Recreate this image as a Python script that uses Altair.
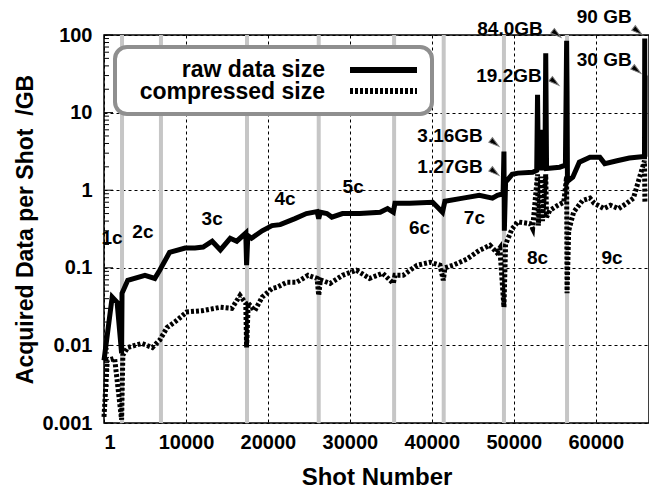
import altair as alt
import pandas as pd

# ---------------- data ----------------
raw_shot = [1, 1000, 1600, 2150, 2200, 2900, 5000, 6200, 6800, 8000, 9900, 11100, 12100,
            13200, 14200, 15400, 16200, 17300, 17400, 17550, 18000, 19300, 20500, 21500,
            23300, 24700, 26000, 26200, 26400, 27200, 27800, 29100, 31200, 33700, 34600,
            35300, 35500, 37300, 40100, 41300, 41600, 43800, 45800, 47400, 48000, 48700,
            48800, 48850, 49000, 49800, 50500, 52300, 52800, 52900, 53000, 53100, 53200,
            53400, 53500, 53700, 53800, 53900, 54000, 55600, 56300, 56450, 56500, 56550,
            57200, 58000, 59300, 60500, 61100, 62600, 64100, 65600, 65950, 65980, 66000, 66030]
raw_gb = [0.0064, 0.042, 0.036, 0.0079, 0.047, 0.069, 0.080, 0.073, 0.093, 0.158, 0.18, 0.18, 0.185,
          0.22, 0.17, 0.24, 0.22, 0.28, 0.108, 0.26, 0.24, 0.30, 0.35, 0.36,
          0.43, 0.50, 0.53, 0.43, 0.52, 0.50, 0.45, 0.50, 0.50, 0.52, 0.58,
          0.52, 0.68, 0.68, 0.70, 0.52, 0.72, 0.79, 0.86, 0.79, 0.86, 0.90,
          3.16, 0.30, 1.27, 1.60, 1.66, 1.70, 1.80, 17.0, 1.8, 5.0, 1.8,
          6.0, 1.8, 4.0, 1.8, 58.0, 1.9, 1.98, 2.1, 84.0, 19.2, 1.3,
          1.47, 2.3, 2.66, 2.66, 2.2, 2.4, 2.6, 2.7, 2.7, 90.0, 2.7, 30.0]

comp_shot = [1, 400, 1300, 2150, 2300, 2900, 4600, 5900, 6800, 7700, 8900, 10100, 12000,
             14200, 15600, 16600, 17300, 17400, 17600, 18400, 19300, 20500, 21100, 22300,
             23500, 24900, 26000, 26200, 26400, 27600, 29100, 30800, 32400, 34000, 35300,
             35500, 36500, 38200, 39800, 41000, 41400, 41600, 42600, 44300, 45800, 47100,
             47900, 48300, 48800, 49000, 49800, 50500, 52000, 52300, 52900, 53000, 53300,
             53500, 53900, 54000, 54400, 55400, 56100, 56450, 56500, 56700, 57300, 58400,
             59300, 59800, 61000, 61800, 62800, 63800, 64600, 65950, 66000]
comp_gb = [0.0012, 0.0064, 0.0068, 0.0011, 0.0075, 0.0094, 0.0106, 0.0094, 0.0117, 0.017, 0.021, 0.027, 0.028,
           0.031, 0.030, 0.044, 0.035, 0.0094, 0.035, 0.028, 0.042, 0.054, 0.056, 0.065,
           0.065, 0.080, 0.073, 0.044, 0.070, 0.063, 0.080, 0.093, 0.073, 0.085, 0.063,
           0.080, 0.080, 0.108, 0.118, 0.108, 0.069, 0.10, 0.108, 0.13, 0.168, 0.195,
           0.158, 0.18, 0.031, 0.20, 0.32, 0.39, 0.37, 0.32, 1.6, 0.35, 1.5,
           0.40, 1.6, 0.45, 0.55, 0.64, 0.70, 1.5, 0.047, 0.30, 0.52, 0.74,
           0.79, 0.68, 0.58, 0.64, 0.58, 0.68, 0.79, 2.4, 0.70]

boundary_shots = [2200, 6950, 17450, 26200, 35400, 41450, 48800, 56500]

campaign_labels = ["1c", "2c", "3c", "4c", "5c", "6c", "7c", "8c", "9c"]
campaign_shot = [975, 4750, 13200, 22100, 30400, 38500, 45200, 52900, 62000]
campaign_gb = [0.24, 0.287, 0.42, 0.765, 1.09, 0.33, 0.435, 0.133, 0.133]

annot_labels = ["84.0GB", "90 GB", "30 GB", "19.2GB", "3.16GB", "1.27GB"]
annot_text_shot = [53540, 64390, 64390, 53410, 46220, 46220]
annot_text_gb = [119, 170, 47.6, 29.6, 4.97, 1.98]
annot_arrow_shot = [55240, 65120, 65000, 55000, 47680, 47680]
annot_arrow_gb = [103, 112, 35.3, 24.8, 4.04, 1.71]

x_ticks = [1, 10000, 20000, 30000, 40000, 50000, 60000]
y_ticks = [0.001, 0.01, 0.1, 1, 10, 100]
y_minor = [0.002, 0.003, 0.004, 0.005, 0.006, 0.007, 0.008, 0.009,
           0.02, 0.03, 0.04, 0.05, 0.06, 0.07, 0.08, 0.09,
           0.2, 0.3, 0.4, 0.5, 0.6, 0.7, 0.8, 0.9,
           2, 3, 4, 5, 6, 7, 8, 9,
           20, 30, 40, 50, 60, 70, 80, 90]

series_names = ["raw data size", "compressed size"]

# ---------------- tables ----------------
raw_df = pd.DataFrame({"shot": raw_shot, "gb": raw_gb, "i": range(len(raw_shot))})
comp_df = pd.DataFrame({"shot": comp_shot, "gb": comp_gb, "i": range(len(comp_shot))})
band_df = pd.DataFrame({"shot": boundary_shots})
camp_df = pd.DataFrame({"label": campaign_labels, "shot": campaign_shot, "gb": campaign_gb})
ann_df = pd.DataFrame({"label": annot_labels, "tshot": annot_text_shot, "tgb": annot_text_gb,
                       "ashot": annot_arrow_shot, "agb": annot_arrow_gb})
minor_df = pd.DataFrame({"gb": y_minor})
major_df = pd.DataFrame({"gb": y_ticks})

FONT = "Liberation Sans"

x_scale = alt.Scale(domain=[1, 66500], nice=False, zero=False)
y_scale = alt.Scale(type="log", domain=[0.001, 100], nice=False)

x_axis = alt.Axis(values=x_ticks, format="d", title="Shot Number", grid=True,
                  gridColor="black", gridDash=[3, 3], gridWidth=1, ticks=False, domain=False,
                  labelPadding=9, labelFontSize=20, labelFontWeight="bold", labelColor="black",
                  labelFont=FONT, titleFont=FONT, titleFontSize=24, titleFontWeight="bold",
                  titleColor="black", titleY=61, titleBaseline="alphabetic")
y_axis = alt.Axis(values=y_ticks, format="~g", title="Acquired Data per Shot \u00a0/GB", grid=True,
                  gridColor="black", gridDash=[3, 3], gridWidth=1, ticks=False, domain=False,
                  labelPadding=12, labelFontSize=20, labelFontWeight="bold", labelColor="black",
                  labelFont=FONT, titleFont=FONT, titleFontSize=23, titleFontWeight="bold",
                  titleColor="black", titleAngle=270, titleX=-72, titleY=194,
                  titleAlign="center", titleBaseline="alphabetic")


def X(field):
    return alt.X(field, type="quantitative", scale=x_scale, axis=x_axis)


def Y(field):
    return alt.Y(field, type="quantitative", scale=y_scale, axis=y_axis)


bands = alt.Chart(band_df).mark_rule(color="#c6c6c6", strokeWidth=4).encode(x=X("shot"))

minor_ticks = alt.Chart(minor_df).mark_rule(color="black", strokeWidth=1).encode(
    y=Y("gb"), x=alt.value(0), x2=alt.value(5))
major_ticks = alt.Chart(major_df).mark_rule(color="black", strokeWidth=1).encode(
    y=Y("gb"), x=alt.value(0), x2=alt.value(9))

comp_line = alt.Chart(comp_df).mark_line(color="black", strokeWidth=5, strokeDash=[3, 2],
                                         strokeCap="butt").encode(
    x=X("shot"), y=Y("gb"), order="i:Q")
raw_line = alt.Chart(raw_df).mark_line(color="black", strokeWidth=5, strokeJoin="miter").encode(
    x=X("shot"), y=Y("gb"), order="i:Q")

camp_text = alt.Chart(camp_df).mark_text(font=FONT, fontSize=19, fontWeight="bold",
                                         color="black", align="center", baseline="middle").encode(
    x=X("shot"), y=Y("gb"), text="label:N")

ann_text = alt.Chart(ann_df).mark_text(font=FONT, fontSize=19, fontWeight="bold",
                                       color="black", align="right", baseline="middle").encode(
    x=X("tshot"), y=Y("tgb"), text="label:N")
ann_arrow = alt.Chart(ann_df).mark_point(shape="M0,-1L0.55,1L-0.55,1Z", filled=True, size=110,
                                         angle=128, color="black", stroke="#777777",
                                         strokeWidth=1, opacity=1).encode(
    x=X("ashot"), y=Y("agb"))

one = pd.DataFrame({"name": [series_names[0]]})
two = pd.DataFrame({"name": [series_names[1]]})
leg_box = alt.Chart(one).mark_rect(cornerRadius=12, fill="white", stroke="#8f8f8f",
                                    strokeWidth=4).encode(
    x=alt.value(11), x2=alt.value(328), y=alt.value(12), y2=alt.value(79))
leg_t1 = alt.Chart(one).mark_text(font=FONT, fontSize=23, fontWeight="bold", color="black",
                                  align="right", baseline="alphabetic").encode(
    x=alt.value(221), y=alt.value(42), text="name:N")
leg_t2 = alt.Chart(two).mark_text(font=FONT, fontSize=23, fontWeight="bold", color="black",
                                  align="right", baseline="alphabetic").encode(
    x=alt.value(221), y=alt.value(64), text="name:N")
leg_l1 = alt.Chart(one).mark_rule(color="black", strokeWidth=6).encode(
    x=alt.value(246), x2=alt.value(313), y=alt.value(35))
leg_l2 = alt.Chart(two).mark_rule(color="black", strokeWidth=6, strokeDash=[3, 2]).encode(
    x=alt.value(246), x2=alt.value(313), y=alt.value(56))

chart = alt.layer(
    bands, minor_ticks, major_ticks, comp_line, raw_line, camp_text, ann_text, ann_arrow,
    leg_box, leg_t1, leg_t2, leg_l1, leg_l2
).properties(
    width=545, height=388,
    autosize=alt.AutoSizeParams(type="none"),
    padding={"left": 104, "top": 35, "right": 0, "bottom": 68},
    background="white",
).configure_view(stroke="black", strokeWidth=1.5)

chart.save("out.html", embed_options={"renderer": "svg", "actions": False})
